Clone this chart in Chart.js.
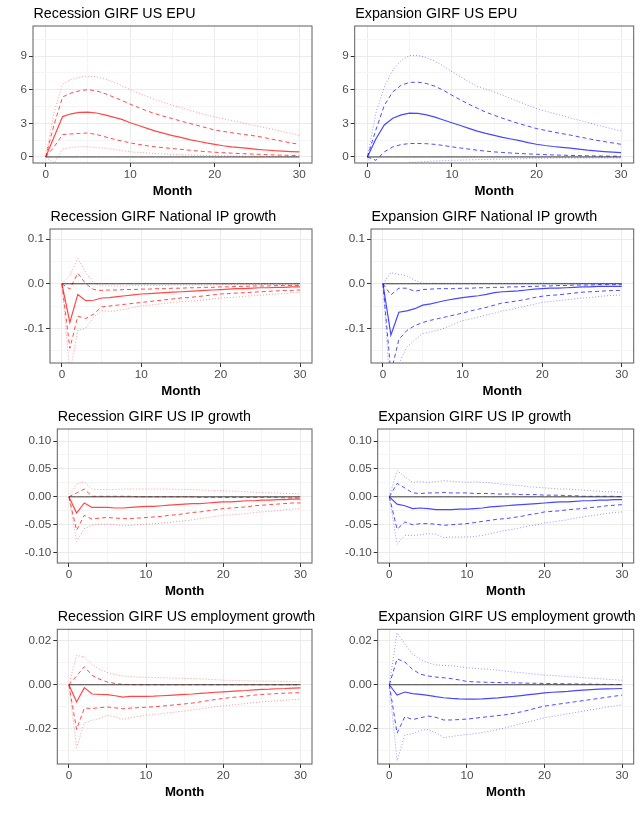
<!DOCTYPE html>
<html>
<head>
<meta charset="utf-8">
<script src="https://cdn.jsdelivr.net/npm/chart.js@4.4.1/dist/chart.umd.min.js"></script>
<style>
  html, body { margin: 0; padding: 0; background: #ffffff; }
  #wrap { position: relative; width: 644px; height: 817px; overflow: hidden; }
  canvas { position: absolute; }
</style>
</head>
<body>
<div id="wrap"></div>
<script>
// ---------------- DATA ----------------
const months = [0,1,2,3,4,5,6,7,8,9,10,11,12,13,14,15,16,17,18,19,20,21,22,23,24,25,26,27,28,29,30];
const zeroLine = [0,0,0,0,0,0,0,0,0,0,0, 0,0,0,0,0,0,0,0,0,0, 0,0,0,0,0,0,0,0,0,0];

const titles = [
  'Recession GIRF US EPU', 'Expansion GIRF US EPU',
  'Recession GIRF National IP growth', 'Expansion GIRF National IP growth',
  'Recession GIRF US IP growth', 'Expansion GIRF US IP growth',
  'Recession GIRF US employment growth', 'Expansion GIRF US employment growth'
];
const xAxisTitle = 'Month';
const xTickValues = [0, 10, 20, 30];
const xTickLabels = ['0', '10', '20', '30'];
const xMinorValues = [5, 15, 25];

const epuTickValues = [0, 3, 6, 9];
const epuTickLabels = ['0', '3', '6', '9'];
const epuMinorValues = [1.5, 4.5, 7.5, 10.5];
const nipTickValues = [-0.1, 0, 0.1];
const nipTickLabels = ['-0.1', '0.0', '0.1'];
const nipMinorValues = [-0.15, -0.05, 0.05];
const uipTickValues = [-0.1, -0.05, 0, 0.05, 0.1];
const uipTickLabels = ['-0.10', '-0.05', '0.00', '0.05', '0.10'];
const uipMinorValues = [-0.075, -0.025, 0.025, 0.075];
const empTickValues = [-0.02, 0, 0.02];
const empTickLabels = ['-0.02', '0.00', '0.02'];
const empMinorValues = [-0.03, -0.01, 0.01];

// Recession GIRF US EPU
const recEpuMed = [0, 1.8, 3.6, 3.85, 3.97, 4.0, 3.92, 3.75, 3.55, 3.35, 3.05, 2.8, 2.55, 2.3, 2.1, 1.9, 1.75, 1.55, 1.4, 1.25, 1.12, 1.0, 0.9, 0.83, 0.76, 0.68, 0.62, 0.56, 0.52, 0.48, 0.45];
const recEpuHi1 = [0, 2.9, 5.35, 5.7, 5.9, 6.0, 5.9, 5.65, 5.35, 5.05, 4.7, 4.4, 4.1, 3.85, 3.62, 3.42, 3.2, 3.0, 2.8, 2.6, 2.4, 2.28, 2.16, 2.05, 1.95, 1.85, 1.7, 1.55, 1.4, 1.25, 1.13];
const recEpuLo1 = [0, 0.9, 2.0, 2.05, 2.1, 2.14, 2.0, 1.8, 1.6, 1.42, 1.25, 1.12, 1.0, 0.9, 0.82, 0.75, 0.68, 0.6, 0.53, 0.47, 0.42, 0.38, 0.34, 0.3, 0.27, 0.24, 0.21, 0.18, 0.16, 0.14, 0.12];
const recEpuHi2 = [0, 4.0, 6.5, 6.9, 7.1, 7.2, 7.15, 6.95, 6.7, 6.35, 6.0, 5.7, 5.4, 5.1, 4.85, 4.6, 4.4, 4.2, 3.95, 3.75, 3.57, 3.4, 3.25, 3.1, 2.9, 2.75, 2.6, 2.45, 2.25, 2.1, 1.93];
const recEpuLo2 = [0, -0.55, 0.7, 0.85, 0.92, 0.9, 0.85, 0.78, 0.68, 0.56, 0.46, 0.4, 0.35, 0.3, 0.26, 0.23, 0.2, 0.17, 0.15, 0.13, 0.12, 0.1, 0.09, 0.08, 0.07, 0.06, 0.05, 0.05, 0.04, 0.04, 0.03];

// Expansion GIRF US EPU
const expEpuMed = [0, 1.6, 2.85, 3.45, 3.75, 3.9, 3.88, 3.75, 3.55, 3.3, 3.05, 2.8, 2.55, 2.3, 2.1, 1.93, 1.75, 1.6, 1.45, 1.28, 1.13, 1.02, 0.93, 0.86, 0.78, 0.69, 0.6, 0.54, 0.48, 0.43, 0.39];
const expEpuHi1 = [0, 2.4, 4.6, 5.8, 6.4, 6.65, 6.67, 6.55, 6.3, 5.95, 5.5, 5.1, 4.7, 4.35, 4.0, 3.72, 3.45, 3.2, 2.95, 2.75, 2.53, 2.38, 2.22, 2.08, 1.95, 1.8, 1.65, 1.5, 1.37, 1.25, 1.13];
const expEpuLo1 = [0, -0.3, 0.45, 0.9, 1.1, 1.2, 1.2, 1.18, 1.12, 1.02, 0.9, 0.8, 0.7, 0.6, 0.52, 0.45, 0.4, 0.35, 0.31, 0.27, 0.24, 0.21, 0.18, 0.16, 0.14, 0.12, 0.1, 0.09, 0.08, 0.07, 0.06];
const expEpuHi2 = [0, 3.9, 6.25, 7.75, 8.6, 9.05, 9.05, 8.85, 8.55, 8.1, 7.6, 7.15, 6.7, 6.3, 6.05, 5.8, 5.5, 5.2, 4.9, 4.6, 4.32, 4.1, 3.9, 3.68, 3.48, 3.28, 3.08, 2.88, 2.68, 2.5, 2.32];
const expEpuLo2 = [0, -1.2, -1.3, -1.0, -0.75, -0.52, -0.45, -0.4, -0.36, -0.33, -0.3, -0.28, -0.26, -0.24, -0.22, -0.2, -0.19, -0.18, -0.16, -0.14, -0.12, -0.11, -0.1, -0.1, -0.1, -0.1, -0.1, -0.1, -0.1, -0.1, -0.1];

// Recession GIRF National IP growth
const recNipMed = [0, -0.087, -0.024, -0.038, -0.037, -0.032, -0.031, -0.029, -0.027, -0.025, -0.023, -0.022, -0.021, -0.02, -0.019, -0.018, -0.017, -0.016, -0.015, -0.014, -0.013, -0.012, -0.011, -0.011, -0.01, -0.009, -0.009, -0.008, -0.008, -0.007, -0.007];
const recNipHi1 = [0, -0.012, 0.024, 0.0, -0.013, -0.015, -0.014, -0.014, -0.013, -0.013, -0.012, -0.012, -0.011, -0.011, -0.01, -0.01, -0.009, -0.009, -0.008, -0.008, -0.007, -0.007, -0.006, -0.006, -0.005, -0.005, -0.005, -0.004, -0.004, -0.004, -0.004];
const recNipLo1 = [0, -0.145, -0.073, -0.078, -0.068, -0.052, -0.05, -0.048, -0.046, -0.044, -0.042, -0.04, -0.038, -0.036, -0.034, -0.032, -0.031, -0.029, -0.027, -0.025, -0.023, -0.022, -0.021, -0.02, -0.019, -0.018, -0.017, -0.016, -0.015, -0.015, -0.014];
const recNipHi2 = [0, 0.018, 0.057, 0.025, 0.001, -0.005, -0.005, -0.005, -0.005, -0.004, -0.004, -0.004, -0.004, -0.004, -0.003, -0.003, -0.003, -0.003, -0.003, -0.003, -0.002, -0.002, -0.002, -0.002, -0.002, -0.002, -0.001, -0.001, -0.001, -0.001, -0.001];
const recNipLo2 = [0, -0.2, -0.105, -0.1, -0.075, -0.06, -0.062, -0.06, -0.057, -0.053, -0.05, -0.048, -0.046, -0.044, -0.042, -0.04, -0.039, -0.038, -0.036, -0.034, -0.032, -0.031, -0.03, -0.028, -0.027, -0.026, -0.024, -0.023, -0.022, -0.02, -0.019];

// Expansion GIRF National IP growth
const expNipMed = [0, -0.115, -0.064, -0.061, -0.056, -0.048, -0.045, -0.041, -0.037, -0.034, -0.031, -0.029, -0.027, -0.024, -0.02, -0.018, -0.017, -0.016, -0.014, -0.012, -0.011, -0.01, -0.01, -0.009, -0.008, -0.007, -0.007, -0.006, -0.006, -0.006, -0.006];
const expNipHi1 = [0, -0.025, -0.01, -0.01, -0.017, -0.013, -0.012, -0.011, -0.011, -0.011, -0.01, -0.01, -0.009, -0.009, -0.008, -0.008, -0.007, -0.007, -0.006, -0.006, -0.005, -0.005, -0.004, -0.004, -0.003, -0.003, -0.003, -0.002, -0.002, -0.002, -0.002];
const expNipLo1 = [0, -0.2, -0.125, -0.105, -0.094, -0.087, -0.082, -0.078, -0.074, -0.07, -0.066, -0.061, -0.057, -0.053, -0.048, -0.043, -0.041, -0.038, -0.035, -0.031, -0.028, -0.026, -0.025, -0.023, -0.021, -0.019, -0.018, -0.017, -0.016, -0.015, -0.015];
const expNipHi2 = [0, 0.025, 0.021, 0.018, 0.008, 0.001, 0.001, 0.001, 0.001, 0.001, 0.001, 0.001, 0.001, 0.001, 0.001, 0.001, 0.001, 0.001, 0.001, 0.001, 0.002, 0.001, 0.001, 0.001, 0.001, 0.001, 0.001, 0.001, 0.001, 0.001, 0.001];
const expNipLo2 = [0, -0.26, -0.18, -0.142, -0.126, -0.112, -0.108, -0.104, -0.098, -0.09, -0.083, -0.079, -0.075, -0.07, -0.066, -0.061, -0.058, -0.054, -0.05, -0.046, -0.042, -0.04, -0.038, -0.036, -0.034, -0.032, -0.031, -0.029, -0.027, -0.026, -0.025];

// Recession GIRF US IP growth
const recUipMed = [0, -0.029, -0.011, -0.019, -0.019, -0.019, -0.02, -0.02, -0.019, -0.018, -0.017, -0.017, -0.016, -0.015, -0.014, -0.013, -0.012, -0.012, -0.011, -0.01, -0.009, -0.009, -0.008, -0.007, -0.007, -0.006, -0.006, -0.005, -0.005, -0.004, -0.004];
const recUipHi1 = [0, 0.007, 0.014, 0.001, 0.001, 0.001, 0.001, 0.001, 0.001, 0.0, 0.0, 0.0, 0.0, 0.0, 0.0, 0.0, 0.0, -0.001, -0.001, -0.001, -0.001, -0.001, -0.001, -0.001, -0.001, -0.001, -0.001, -0.001, -0.002, -0.002, -0.002];
const recUipLo1 = [0, -0.06, -0.033, -0.04, -0.038, -0.037, -0.038, -0.039, -0.039, -0.038, -0.037, -0.036, -0.035, -0.033, -0.032, -0.03, -0.028, -0.027, -0.025, -0.023, -0.021, -0.02, -0.019, -0.018, -0.016, -0.015, -0.014, -0.013, -0.012, -0.011, -0.011];
const recUipHi2 = [0, 0.023, 0.027, 0.014, 0.013, 0.013, 0.013, 0.014, 0.014, 0.014, 0.014, 0.014, 0.014, 0.014, 0.013, 0.013, 0.013, 0.012, 0.012, 0.011, 0.011, 0.01, 0.01, 0.009, 0.008, 0.008, 0.007, 0.007, 0.006, 0.006, 0.005];
const recUipLo2 = [0, -0.08, -0.057, -0.051, -0.049, -0.049, -0.05, -0.052, -0.051, -0.05, -0.049, -0.048, -0.047, -0.046, -0.044, -0.043, -0.041, -0.039, -0.037, -0.035, -0.033, -0.032, -0.031, -0.03, -0.028, -0.027, -0.026, -0.025, -0.023, -0.022, -0.021];

// Expansion GIRF US IP growth
const expUipMed = [0, -0.013, -0.016, -0.021, -0.02, -0.021, -0.023, -0.023, -0.023, -0.022, -0.022, -0.021, -0.02, -0.018, -0.017, -0.016, -0.015, -0.014, -0.013, -0.012, -0.011, -0.01, -0.009, -0.009, -0.008, -0.007, -0.007, -0.006, -0.006, -0.005, -0.005];
const expUipHi1 = [0, 0.024, 0.016, 0.007, 0.006, 0.007, 0.007, 0.008, 0.007, 0.007, 0.007, 0.006, 0.006, 0.006, 0.005, 0.005, 0.005, 0.004, 0.004, 0.004, 0.003, 0.003, 0.003, 0.002, 0.002, 0.001, 0.001, 0.001, 0.001, 0.001, 0.0];
const expUipLo1 = [0, -0.058, -0.045, -0.05, -0.048, -0.048, -0.049, -0.051, -0.05, -0.049, -0.048, -0.046, -0.044, -0.042, -0.04, -0.039, -0.037, -0.035, -0.032, -0.03, -0.027, -0.026, -0.025, -0.023, -0.022, -0.021, -0.019, -0.018, -0.016, -0.015, -0.014];
const expUipHi2 = [0, 0.047, 0.036, 0.026, 0.027, 0.026, 0.027, 0.029, 0.028, 0.027, 0.026, 0.027, 0.026, 0.025, 0.024, 0.022, 0.021, 0.02, 0.018, 0.017, 0.016, 0.015, 0.014, 0.014, 0.013, 0.012, 0.011, 0.01, 0.009, 0.009, 0.008];
const expUipLo2 = [0, -0.085, -0.069, -0.069, -0.068, -0.066, -0.067, -0.073, -0.072, -0.072, -0.072, -0.071, -0.069, -0.066, -0.063, -0.06, -0.058, -0.055, -0.052, -0.05, -0.047, -0.045, -0.043, -0.041, -0.038, -0.036, -0.034, -0.032, -0.03, -0.028, -0.027];

// Recession GIRF US employment growth
const recEmpMed = [0, -0.0078, -0.0013, -0.0042, -0.0044, -0.0045, -0.005, -0.0056, -0.0053, -0.0053, -0.0053, -0.0052, -0.005, -0.0048, -0.0046, -0.0044, -0.0042, -0.0039, -0.0037, -0.0034, -0.0032, -0.003, -0.0028, -0.0026, -0.0023, -0.0021, -0.002, -0.0018, -0.0017, -0.0015, -0.0014];
const recEmpHi1 = [0, 0.004, 0.0082, 0.0043, 0.0025, 0.0012, 0.0006, 0.0002, 0.0001, 0, 0, 0, 0, 0, 0, 0, 0, 0, 0, 0, 0, 0, 0, 0, 0, 0, 0, 0, 0, 0, 0];
const recEmpLo1 = [0, -0.0203, -0.0106, -0.0108, -0.0104, -0.0101, -0.0105, -0.0109, -0.0106, -0.0104, -0.0102, -0.01, -0.0097, -0.0094, -0.009, -0.0087, -0.0083, -0.0078, -0.0072, -0.0067, -0.0062, -0.0058, -0.0055, -0.0051, -0.0047, -0.0044, -0.0042, -0.004, -0.0038, -0.0037, -0.0036];
const recEmpHi2 = [0, 0.0133, 0.0127, 0.0092, 0.007, 0.0055, 0.0046, 0.004, 0.0037, 0.0035, 0.0034, 0.0033, 0.0032, 0.0031, 0.003, 0.0029, 0.0028, 0.0027, 0.0025, 0.0023, 0.0021, 0.002, 0.0019, 0.0018, 0.0017, 0.0017, 0.0016, 0.0016, 0.0015, 0.0014, 0.0013];
const recEmpLo2 = [0, -0.0286, -0.0173, -0.0162, -0.0153, -0.0139, -0.0145, -0.0157, -0.0149, -0.0144, -0.0139, -0.0135, -0.0131, -0.0127, -0.0123, -0.0119, -0.0114, -0.011, -0.0105, -0.01, -0.0096, -0.0092, -0.0089, -0.0085, -0.0081, -0.0078, -0.0075, -0.0072, -0.007, -0.0068, -0.0066];

// Expansion GIRF US employment growth
const expEmpMed = [0, -0.0047, -0.0033, -0.004, -0.0044, -0.0048, -0.0054, -0.0059, -0.0062, -0.0064, -0.0065, -0.0065, -0.0064, -0.0062, -0.006, -0.0056, -0.0053, -0.0049, -0.0045, -0.0041, -0.0037, -0.0034, -0.0032, -0.003, -0.0027, -0.0024, -0.0022, -0.002, -0.0019, -0.0018, -0.0017];
const expEmpHi1 = [0, 0.0118, 0.0103, 0.007, 0.0048, 0.004, 0.0035, 0.0032, 0.0028, 0.0022, 0.0015, 0.0013, 0.0012, 0.0011, 0.001, 0.0009, 0.0009, 0.0008, 0.0007, 0.0007, 0.0006, 0.0005, 0.0005, 0.0004, 0.0004, 0.0003, 0.0003, 0.0002, 0.0002, 0.0001, 0.0001];
const expEmpLo1 = [0, -0.022, -0.0145, -0.0158, -0.015, -0.0142, -0.0148, -0.016, -0.016, -0.0158, -0.0156, -0.0152, -0.0148, -0.0144, -0.014, -0.0136, -0.013, -0.0123, -0.0115, -0.0105, -0.0097, -0.0092, -0.0087, -0.0082, -0.0077, -0.0072, -0.0067, -0.0062, -0.0057, -0.0052, -0.0047];
const expEmpHi2 = [0, 0.0236, 0.0185, 0.0138, 0.0115, 0.01, 0.009, 0.0088, 0.0086, 0.0082, 0.0077, 0.0075, 0.0072, 0.007, 0.0066, 0.0062, 0.0058, 0.0055, 0.0051, 0.0048, 0.0044, 0.0042, 0.004, 0.0037, 0.0035, 0.0032, 0.003, 0.0028, 0.0025, 0.0023, 0.0021];
const expEmpLo2 = [0, -0.0345, -0.0228, -0.0222, -0.0207, -0.0203, -0.0218, -0.024, -0.0235, -0.023, -0.0226, -0.0222, -0.0217, -0.0211, -0.0203, -0.0195, -0.0186, -0.0177, -0.0168, -0.0159, -0.015, -0.0144, -0.0138, -0.0132, -0.0126, -0.012, -0.0114, -0.0108, -0.0102, -0.0096, -0.0091];

// ---------------- PANEL SETUP ----------------
const FONT = '"Liberation Sans", Arial, Helvetica, sans-serif';
const RED = 'rgb(255,0,0)';
const BLUE = 'rgb(0,0,255)';

const panels = [
  { title: titles[0], med: recEpuMed, hi1: recEpuHi1, lo1: recEpuLo1, hi2: recEpuHi2, lo2: recEpuLo2, color: 'r',
    yT: epuTickValues, yL: epuTickLabels, yM: epuMinorValues, ymin: -0.54, ymax: 11.68 },
  { title: titles[1], med: expEpuMed, hi1: expEpuHi1, lo1: expEpuLo1, hi2: expEpuHi2, lo2: expEpuLo2, color: 'b',
    yT: epuTickValues, yL: epuTickLabels, yM: epuMinorValues, ymin: -0.54, ymax: 11.68 },
  { title: titles[2], med: recNipMed, hi1: recNipHi1, lo1: recNipLo1, hi2: recNipHi2, lo2: recNipLo2, color: 'r',
    yT: nipTickValues, yL: nipTickLabels, yM: nipMinorValues, ymin: -0.178, ymax: 0.123 },
  { title: titles[3], med: expNipMed, hi1: expNipHi1, lo1: expNipLo1, hi2: expNipHi2, lo2: expNipLo2, color: 'b',
    yT: nipTickValues, yL: nipTickLabels, yM: nipMinorValues, ymin: -0.178, ymax: 0.123 },
  { title: titles[4], med: recUipMed, hi1: recUipHi1, lo1: recUipLo1, hi2: recUipHi2, lo2: recUipLo2, color: 'r',
    yT: uipTickValues, yL: uipTickLabels, yM: uipMinorValues, ymin: -0.1185, ymax: 0.1215 },
  { title: titles[5], med: expUipMed, hi1: expUipHi1, lo1: expUipLo1, hi2: expUipHi2, lo2: expUipLo2, color: 'b',
    yT: uipTickValues, yL: uipTickLabels, yM: uipMinorValues, ymin: -0.1185, ymax: 0.1215 },
  { title: titles[6], med: recEmpMed, hi1: recEmpHi1, lo1: recEmpLo1, hi2: recEmpHi2, lo2: recEmpLo2, color: 'r',
    yT: empTickValues, yL: empTickLabels, yM: empMinorValues, ymin: -0.036, ymax: 0.0252 },
  { title: titles[7], med: expEmpMed, hi1: expEmpHi1, lo1: expEmpLo1, hi2: expEmpHi2, lo2: expEmpLo2, color: 'b',
    yT: empTickValues, yL: empTickLabels, yM: empMinorValues, ymin: -0.036, ymax: 0.0252 }
];

// layout boxes (absolute page px): plot area edges
const boxes = [
  { cx: 0,   cy: 0,   h: 200, L: 33,    R: 312,   T: 26 },
  { cx: 322, cy: 0,   h: 200, L: 354.7, R: 633.7, T: 26 },
  { cx: 0,   cy: 200, h: 200, L: 50,    R: 312,   T: 229 },
  { cx: 322, cy: 200, h: 200, L: 371,   R: 633.7, T: 229 },
  { cx: 0,   cy: 400, h: 200, L: 57.3,  R: 312,   T: 429 },
  { cx: 322, cy: 400, h: 200, L: 377.7, R: 633.7, T: 429 },
  { cx: 0,   cy: 600, h: 201, L: 57.3,  R: 312,   T: 629.3 },
  { cx: 322, cy: 600, h: 201, L: 377.7, R: 633.7, T: 629.3 }
];
const X_AXIS_H = 37;

function near(a, b) { return Math.abs(a - b) < 1e-9; }
function isIn(list, v) { return list.some(t => near(t, v)); }

const panelDeco = {
  id: 'panelDeco',
  afterDraw(chart, args, opts) {
    const { ctx, chartArea: a } = chart;
    ctx.save();
    ctx.strokeStyle = '#5e5e5e';
    ctx.lineWidth = 1;
    ctx.strokeRect(a.left, a.top, a.right - a.left, a.bottom - a.top);
    ctx.fillStyle = '#000000';
    ctx.font = '14.3px ' + FONT;
    ctx.textAlign = 'left';
    ctx.textBaseline = 'alphabetic';
    ctx.fillText(opts.title, a.left + 0.5, a.top - 8);
    ctx.restore();
  }
};

function ds(arr, col, kind) {
  const c = col === 'r' ? '255,0,0' : '0,0,255';
  const base = { data: months.map((m, i) => ({ x: m, y: arr[i] })), pointRadius: 0, fill: false, tension: 0 };
  if (kind === 'zero') return Object.assign(base, { borderColor: '#3a3a3a', borderWidth: 1, order: 0 });
  if (kind === 'med') return Object.assign(base, { borderColor: 'rgba(' + c + ',0.72)', borderWidth: 1.2, order: 1 });
  if (kind === 'dash') return Object.assign(base, { borderColor: 'rgba(' + c + ',0.7)', borderWidth: 1, borderDash: [4, 3], order: 2 });
  return Object.assign(base, { borderColor: 'rgba(' + c + ',0.42)', borderWidth: 1, borderDash: [1, 2], order: 3 });
}

const wrap = document.getElementById('wrap');
panels.forEach((p, i) => {
  const b = boxes[i];
  const cv = document.createElement('canvas');
  cv.width = 322; cv.height = b.h;
  cv.style.left = b.cx + 'px'; cv.style.top = b.cy + 'px';
  cv.style.width = '322px'; cv.style.height = b.h + 'px';
  wrap.appendChild(cv);

  const yW = b.L - b.cx;
  const padR = b.cx + 322 - b.R;
  const padT = b.T - b.cy;
  const yAll = p.yT.concat(p.yM).sort((a, c) => a - c);
  const xAll = xTickValues.concat(xMinorValues).sort((a, c) => a - c);

  new Chart(cv, {
    type: 'line',
    data: {
      datasets: [
        ds(zeroLine, p.color, 'zero'),
        ds(p.med, p.color, 'med'),
        ds(p.hi1, p.color, 'dash'),
        ds(p.lo1, p.color, 'dash'),
        ds(p.hi2, p.color, 'dot'),
        ds(p.lo2, p.color, 'dot')
      ]
    },
    options: {
      responsive: false,
      animation: false,
      devicePixelRatio: 1,
      layout: { padding: { left: 0, right: padR, top: padT, bottom: 0 } },
      plugins: {
        legend: { display: false },
        tooltip: { enabled: false },
        panelDeco: { title: p.title }
      },
      scales: {
        x: {
          type: 'linear', min: -1.5, max: 31.5,
          afterBuildTicks: s => { s.ticks = xAll.map(v => ({ value: v })); },
          afterFit: s => { s.height = X_AXIS_H; },
          border: { display: false },
          grid: {
            color: c => (c.tick && isIn(xTickValues, c.tick.value)) ? '#EBEBEB' : '#F5F5F5',
            lineWidth: 1,
            tickLength: 4,
            tickWidth: 1,
            tickColor: c => (c.tick && isIn(xTickValues, c.tick.value)) ? '#333333' : 'rgba(0,0,0,0)'
          },
          ticks: {
            autoSkip: false, maxRotation: 0, padding: 1, color: '#4D4D4D',
            font: { family: FONT, size: 11.7 },
            callback: v => { const k = xTickValues.findIndex(t => near(t, v)); return k >= 0 ? xTickLabels[k] : ''; }
          },
          title: {
            display: true, text: xAxisTitle, color: '#000000',
            font: { family: FONT, size: 13.2, weight: 'bold' },
            padding: { top: 0, bottom: 0.6 }
          }
        },
        y: {
          type: 'linear', min: p.ymin, max: p.ymax,
          afterBuildTicks: s => { s.ticks = yAll.map(v => ({ value: v })); },
          afterFit: s => { s.width = yW; },
          border: { display: false },
          grid: {
            color: c => (c.tick && isIn(p.yT, c.tick.value)) ? '#EBEBEB' : '#F5F5F5',
            lineWidth: 1,
            tickLength: 4,
            tickWidth: 1,
            tickColor: c => (c.tick && isIn(p.yT, c.tick.value)) ? '#333333' : 'rgba(0,0,0,0)'
          },
          ticks: {
            autoSkip: false, padding: 2, color: '#4D4D4D',
            font: { family: FONT, size: 11.7 },
            callback: v => { const k = p.yT.findIndex(t => near(t, v)); return k >= 0 ? p.yL[k] : ''; }
          }
        }
      }
    },
    plugins: [panelDeco]
  });
});
</script>
</body>
</html>
